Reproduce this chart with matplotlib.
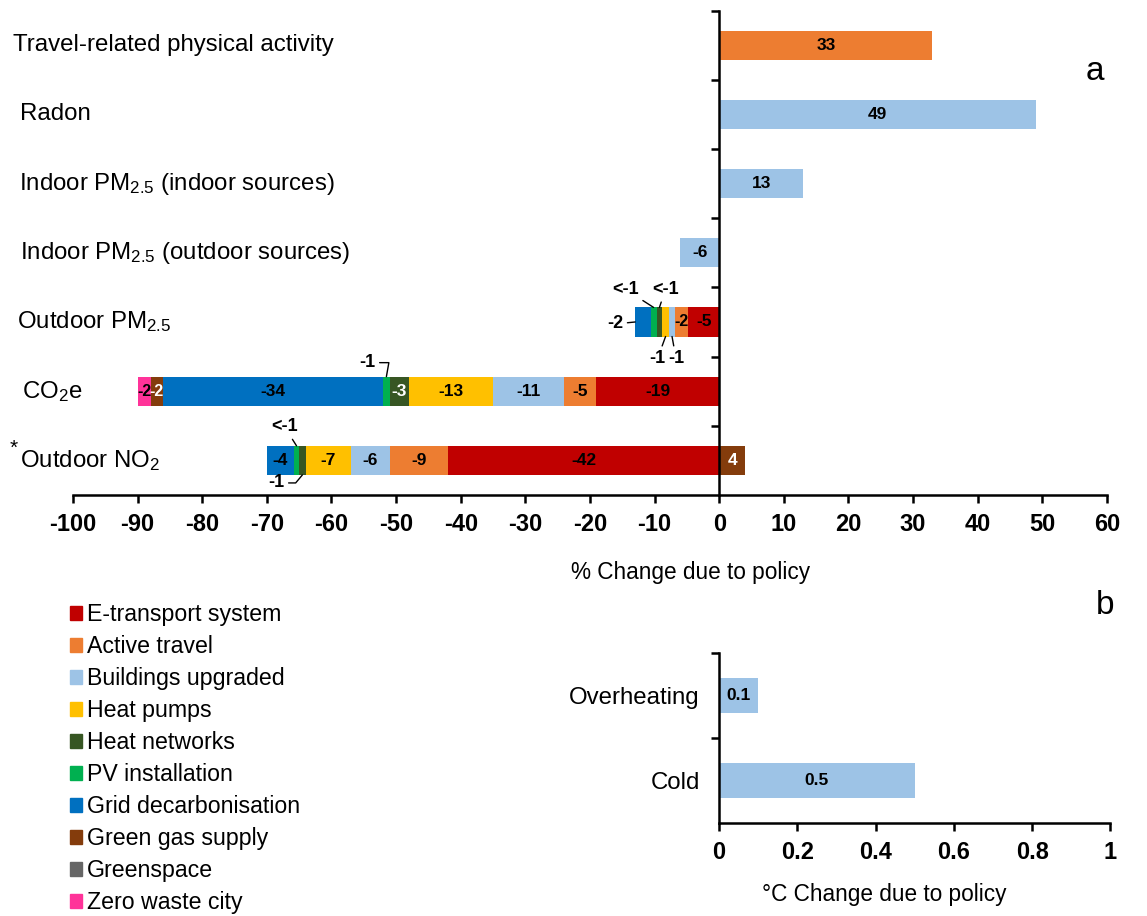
import numpy as np
import matplotlib
matplotlib.use("Agg")
import matplotlib.pyplot as plt
import matplotlib.transforms as mtransforms
from matplotlib.patches import Patch
from matplotlib.ticker import FuncFormatter

plt.rcParams['font.family'] = ['Liberation Sans', 'DejaVu Sans']
plt.rcParams['mathtext.fontset'] = 'custom'
plt.rcParams['mathtext.rm'] = 'Liberation Sans'
plt.rcParams['mathtext.default'] = 'regular'
plt.rcParams['axes.unicode_minus'] = False

# rows of panel a, bottom to top
categories = ["Outdoor NO$_2$", "CO$_2$e", "Outdoor PM$_{2.5}$",
              "Indoor PM$_{2.5}$ (outdoor sources)",
              "Indoor PM$_{2.5}$ (indoor sources)",
              "Radon", "Travel-related physical activity"]

policies = ["E-transport system", "Active travel", "Buildings upgraded",
            "Heat pumps", "Heat networks", "PV installation",
            "Grid decarbonisation", "Green gas supply", "Greenspace",
            "Zero waste city"]
colors = ["#C00000", "#ED7D31", "#9DC3E6", "#FFC000", "#375623",
          "#00B050", "#0070C0", "#843C0C", "#666666", "#FF3399"]

# % change per policy, one value per row (NO2, CO2e, PM2.5, ind-out, ind-in, radon, travel)
e_transport = [-42, -19, -4.8, 0, 0, 0, 0]
active_travel = [-9, -5, -2, 0, 0, 0, 33]
buildings = [-6, -11, -1, -6, 13, 49, 0]
heat_pumps = [-7, -13, -1, 0, 0, 0, 0]
heat_networks = [-1, -3, -0.9, 0, 0, 0, 0]
pv_install = [-0.8, -1, -0.9, 0, 0, 0, 0]
grid_decarb = [-4.2, -34, -2.4, 0, 0, 0, 0]
green_gas = [4, -2, 0, 0, 0, 0, 0]
greenspace = [0, 0, 0, 0, 0, 0, 0]
zero_waste = [0, -2, 0, 0, 0, 0, 0]
series = [e_transport, active_travel, buildings, heat_pumps, heat_networks,
          pv_install, grid_decarb, green_gas, greenspace, zero_waste]

# panel b
temp_cats = ["Cold", "Overheating"]
temp_change = [0.5, 0.1]

white_text = {"Heat networks", "Green gas supply"}

# small segments labelled outside: (row, policy) -> (dx px, dy px, anchor, connection)
outside = {
    (1, 5): (-19, 14, "top", "angle,angleA=0,angleB=80,rad=0"),
    (0, 5): (-12, 19, "top", "arc3"),
    (0, 4): (-26, -8, "bottom", "angle,angleA=0,angleB=50,rad=0"),
    (2, 5): (-28, 18, "top", "arc3"),
    (2, 4): (6, 18, "top", "arc3"),
    (2, 6): (-20, -2, "left", "arc3"),
    (2, 3): (-8, -22, "bottom", "arc3"),
    (2, 2): (4, -22, "bottom", "arc3"),
}


def fmt(v):
    if -1 < v < 0:
        return "<-1"
    return f"{v:.0f}"


fig = plt.figure(figsize=(11.47, 9.16), dpi=100)
ax = fig.add_axes([0.0636, 0.4596, 0.9015, 0.5289])
bh = 0.42
rows = np.arange(len(categories))
pos = np.zeros(len(categories))
neg = np.zeros(len(categories))

for p, (name, vals, col) in enumerate(zip(policies, series, colors)):
    vals = np.array(vals, dtype=float)
    left = np.where(vals < 0, neg, pos)
    ax.barh(rows, vals, left=left, height=bh, color=col, linewidth=0)
    for r, v in enumerate(vals):
        if v == 0:
            continue
        if (r, p) in outside:
            dx, dy, anchor, conn = outside[(r, p)]
            if anchor == "top":
                xy = (left[r] + v / 2, r + bh / 2)
            elif anchor == "bottom":
                xy = (left[r] + v / 2, r - bh / 2)
            else:
                xy = (left[r] + v, r)
            ax.annotate(fmt(v), xy=xy, xytext=(dx, dy), textcoords="offset pixels",
                        ha="center", va="center", fontsize=13, fontweight="bold",
                        arrowprops=dict(arrowstyle="-", color="black", lw=1,
                                        connectionstyle=conn, shrinkA=1, shrinkB=0))
        else:
            tc = "white" if name in white_text else "black"
            fs = 12.5 if abs(v) > 2 else 11.5
            ax.text(left[r] + v / 2, r, fmt(v), ha="center", va="center",
                    fontsize=fs, fontweight="bold", color=tc)
    neg = neg + np.minimum(vals, 0)
    pos = pos + np.maximum(vals, 0)

ax.set_xlim(-100, 60)
ax.set_ylim(-0.5, 6.5)
ax.set_xticks(range(-100, 61, 10))
for s in ["top", "right"]:
    ax.spines[s].set_visible(False)
ax.spines["left"].set_position(("data", 0))
ax.spines["left"].set_linewidth(1.8)
ax.spines["bottom"].set_linewidth(1.8)
ax.set_yticks([])
ax.set_yticks(np.arange(0.5, 7, 1), minor=True)
ax.tick_params(axis="y", which="minor", length=6, width=1.8, direction="out")
ax.tick_params(axis="x", length=6, width=1.8, direction="out", labelsize=17, pad=7)
for lab in ax.get_xticklabels():
    lab.set_fontweight("bold")

# category names on the left
trans = mtransforms.blended_transform_factory(fig.transFigure, ax.transData)
label_x = [20, 22, 17, 20, 19, 20, 13]
for r, (name, lx) in enumerate(zip(categories, label_x)):
    ax.text(lx / 1147, r, name, transform=trans, ha="left", va="center", fontsize=17.3)
ax.text(10 / 1147, 0.17, "*", transform=trans, ha="left", va="center", fontsize=15)

fig.text(691 / 1147, 1 - 572 / 916, "% Change due to policy", ha="center", va="center",
         fontsize=16.3)
fig.text(1095 / 1147, 1 - 72 / 916, "a", ha="center", va="center", fontsize=24)
fig.text(1105 / 1147, 1 - 605 / 916, "b", ha="center", va="center", fontsize=24)

# panel b
bx = fig.add_axes([0.627, 0.1015, 0.341, 0.1856])
bx.barh(np.arange(len(temp_cats)), temp_change, height=0.41, color="#9DC3E6", linewidth=0)
for r, v in enumerate(temp_change):
    bx.text(v / 2, r, f"{v:g}", ha="center", va="center", fontsize=12.5, fontweight="bold")
bx.set_xlim(0, 1)
bx.set_ylim(-0.5, 1.5)
bx.set_xticks(np.arange(0, 1.01, 0.2))
bx.xaxis.set_major_formatter(FuncFormatter(lambda v, _: f"{v:g}"))
bx.set_yticks(np.arange(len(temp_cats)))
bx.set_yticklabels(temp_cats, fontsize=17.3)
bx.set_yticks([0.5, 1.5], minor=True)
bx.tick_params(axis="y", which="major", length=0, pad=14)
bx.tick_params(axis="y", which="minor", length=6, width=1.8, direction="out")
bx.tick_params(axis="x", length=6, width=1.8, direction="out", labelsize=17, pad=7)
for lab in bx.get_xticklabels():
    lab.set_fontweight("bold")
for s in ["top", "right"]:
    bx.spines[s].set_visible(False)
bx.spines["left"].set_linewidth(1.8)
bx.spines["bottom"].set_linewidth(1.8)
fig.text(884 / 1147, 1 - 894 / 916, "°C Change due to policy", ha="center", va="center",
         fontsize=16.3)

handles = [Patch(color=c) for c in colors]
fig.legend(handles, policies, loc="upper left", bbox_to_anchor=(70 / 1147, 1 - 603 / 916),
           frameon=False, fontsize=16.7, handlelength=0.52, handleheight=0.52,
           handletextpad=0.22, labelspacing=0.39, borderpad=0, borderaxespad=0)

fig.savefig("out.png", dpi=100)
